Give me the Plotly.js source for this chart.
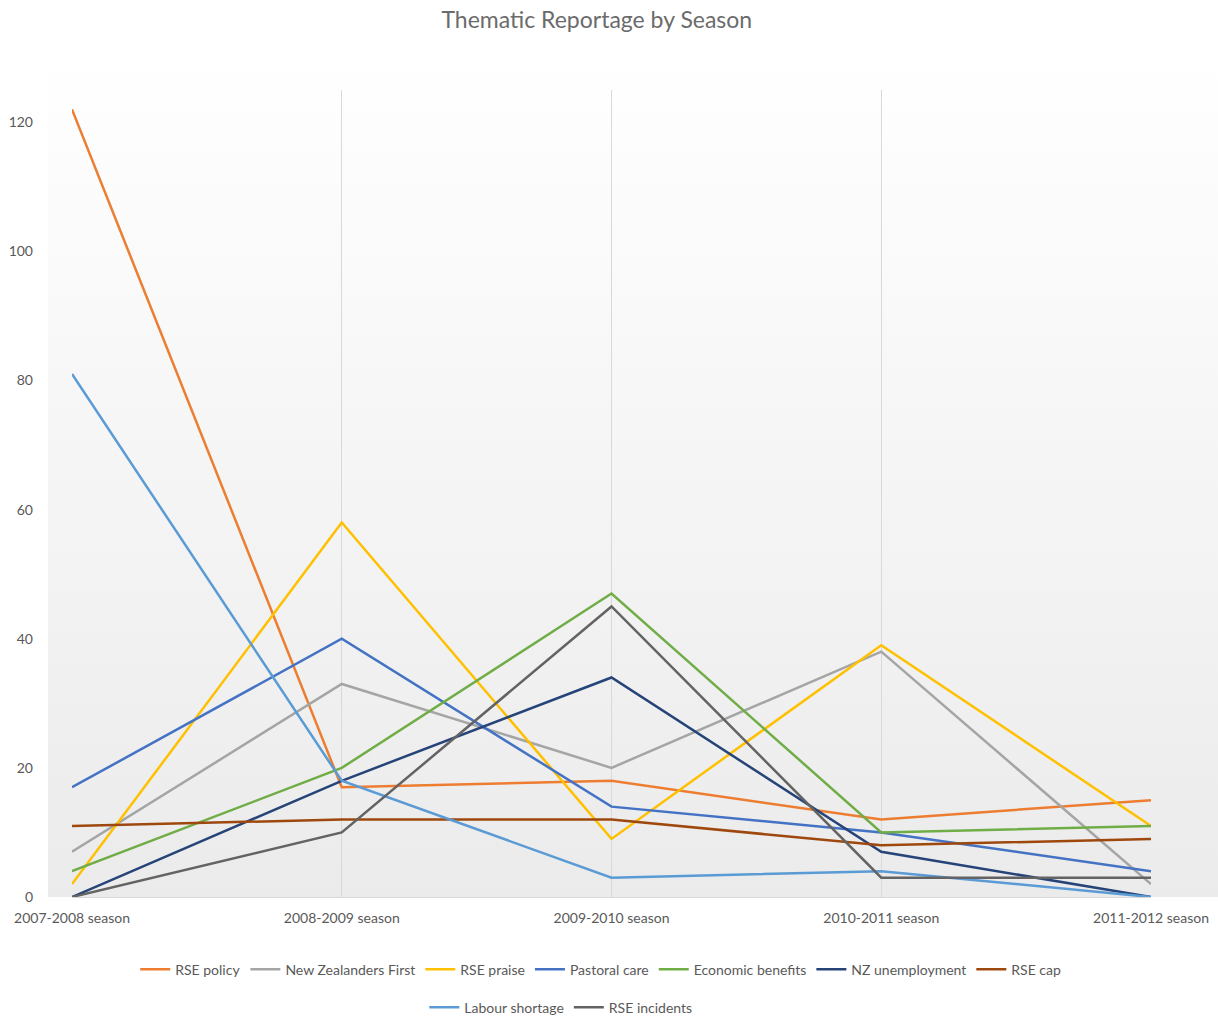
<!DOCTYPE html>
<html>
<head>
<meta charset="utf-8">
<script src="https://cdn.plot.ly/plotly-3.0.1.min.js"></script>
<style>
  html, body { margin: 0; padding: 0; background: #ffffff; }
  #wrap { position: relative; width: 1218px; height: 1019px; }
  #bg { position: absolute; left: 48px; top: 50px; width: 1170px; height: 847px;
        background: linear-gradient(to bottom, #ffffff 0%, #f6f6f6 45%, #ebebeb 100%); }
  #chart { position: absolute; left: 0; top: 0; width: 1218px; height: 1019px; }
</style>
</head>
<body>
<div id="wrap"><div id="bg"></div><div id="chart"></div></div>
<script>
const seasons = ["2007-2008 season", "2008-2009 season", "2009-2010 season", "2010-2011 season", "2011-2012 season"];

const rsePolicy        = [122, 17, 18, 12, 15];
const nzFirst          = [7, 33, 20, 38, 2];
const rsePraise        = [2, 58, 9, 39, 11];
const pastoralCare     = [17, 40, 14, 10, 4];
const economicBenefits = [4, 20, 47, 10, 11];
const nzUnemployment   = [0, 18, 34, 7, 0];
const rseCap           = [11, 12, 12, 8, 9];
const labourShortage   = [81, 18, 3, 4, 0];
const rseIncidents     = [0, 10, 45, 3, 3];

const seriesNames = ["RSE policy", "New Zealanders First", "RSE praise", "Pastoral care",
  "Economic benefits", "NZ unemployment", "RSE cap", "Labour shortage", "RSE incidents"];
const seriesValues = [rsePolicy, nzFirst, rsePraise, pastoralCare, economicBenefits,
  nzUnemployment, rseCap, labourShortage, rseIncidents];
const seriesColors = ["#ED7D31", "#A5A5A5", "#FFC000", "#4472C4", "#70AD47",
  "#264478", "#9E480E", "#5B9BD5", "#636363"];

const traces = seriesNames.map((name, i) => ({
  type: "scatter",
  mode: "lines",
  name: name,
  x: seasons,
  y: seriesValues[i],
  line: { color: seriesColors[i], width: 2.5 },
  legend: i < 7 ? "legend" : "legend2",
  hoverinfo: "x+y+name"
}));

const fam = "Lato, 'Liberation Sans', sans-serif";
const font = { family: fam, size: 14, color: "#595959" };

const layout = {
  width: 1218,
  height: 1019,
  margin: { l: 72, r: 67, t: 90, b: 122, autoexpand: false },
  paper_bgcolor: "rgba(0,0,0,0)",
  plot_bgcolor: "rgba(0,0,0,0)",
  font: font,
  showlegend: true,
  title: {
    text: "Thematic Reportage by Season",
    font: { family: fam, size: 23, color: "#6b6b6b" },
    xref: "container", x: 0.49, xanchor: "center",
    yref: "container", y: 0.98, yanchor: "middle"
  },
  xaxis: {
    type: "category",
    range: [0, 4],
    showgrid: true,
    gridcolor: "#d9d9d9",
    gridwidth: 1,
    showline: true,
    linecolor: "#d9d9d9",
    linewidth: 1,
    ticks: "",
    ticklabelstandoff: 8,
    tickfont: font,
    zeroline: false,
    automargin: false,
    fixedrange: true
  },
  yaxis: {
    range: [0, 125],
    tickvals: [0, 20, 40, 60, 80, 100, 120],
    showgrid: false,
    showline: false,
    zeroline: false,
    ticks: "",
    ticklabelstandoff: 38,
    tickfont: font,
    automargin: false,
    fixedrange: true
  },
  legend: {
    orientation: "h",
    x: 0.49, xanchor: "center",
    y: -0.09, yanchor: "middle",
    itemwidth: 30,
    font: font,
    bgcolor: "rgba(0,0,0,0)"
  },
  legend2: {
    orientation: "h",
    x: 0.453, xanchor: "center",
    y: -0.137, yanchor: "middle",
    itemwidth: 30,
    font: font,
    bgcolor: "rgba(0,0,0,0)"
  }
};

Plotly.newPlot("chart", traces, layout, { displayModeBar: false, responsive: false });
</script>
</body>
</html>
